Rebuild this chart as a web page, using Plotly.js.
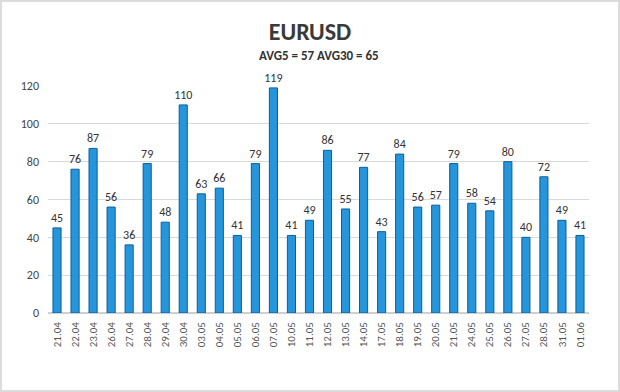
<!DOCTYPE html>
<html>
<head>
<meta charset="utf-8">
<script src="https://cdn.plot.ly/plotly-3.0.1.min.js"></script>
<style>
html,body{margin:0;padding:0;background:#fff;}
#chart{width:620px;height:392px;box-sizing:border-box;border:2px solid #dcdcdc;}
</style>
</head>
<body>
<div id="chart"></div>
<script>
const categories = ["21.04","22.04","23.04","26.04","27.04","28.04","29.04","30.04","03.05","04.05","05.05","06.05","07.05","10.05","11.05","12.05","13.05","14.05","17.05","18.05","19.05","20.05","21.05","24.05","25.05","26.05","27.05","28.05","31.05","01.06"];
const values = [45,76,87,56,36,79,48,110,63,66,41,79,119,41,49,86,55,77,43,84,56,57,79,58,54,80,40,72,49,41];
const yTicks = [0,20,40,60,80,100,120];
const titleText = "EURUSD";
const subtitleText = "AVG5 = 57 AVG30 = 65";

const FONT = "Calibri, Carlito, 'Liberation Sans', Arial, sans-serif";

const trace = {
  type: "bar",
  x: categories,
  y: values,
  text: values.map(String),
  textposition: "outside",
  constraintext: "none",
  cliponaxis: false,
  textfont: {family: FONT, size: 12, color: "#333"},
  outsidetextfont: {family: FONT, size: 12, color: "#333"},
  marker: {color: "#2596dc", line: {color: "#0b5e9c", width: 1}},
  width: 0.45,
  hoverinfo: "none"
};

const layout = {
  width: 616, height: 388,
  margin: {l: 46, r: 29, t: 84, b: 77},
  paper_bgcolor: "#fff",
  plot_bgcolor: "#fff",
  showlegend: false,
  title: {
    text: "<b>" + titleText + "</b>",
    x: 0.5, xanchor: "center",
    y: 0.925, yanchor: "middle",
    yref: "container",
    font: {family: FONT, size: 24, color: "#3a3a3a"}
  },
  annotations: [{
    text: "<b>" + subtitleText + "</b>",
    xref: "paper", yref: "paper",
    x: 0.5, y: 1.135,
    xanchor: "center", yanchor: "middle",
    showarrow: false,
    font: {family: FONT, size: 13, color: "#333"}
  }],
  xaxis: {
    type: "category",
    tickangle: -90,
    tickfont: {family: FONT, size: 11, color: "#555"},
    showgrid: false,
    showline: false,
    ticks: "",
    ticklen: 0,
    ticklabelstandoff: 6,
    automargin: false
  },
  yaxis: {
    range: [0, 120],
    tickvals: yTicks,
    ticktext: yTicks.map(String),
    tickfont: {family: FONT, size: 12, color: "#444"},
    showgrid: true,
    gridcolor: "#d9d9d9",
    gridwidth: 1,
    zeroline: true,
    zerolinecolor: "#cfcfcf",
    zerolinewidth: 2,
    showline: false,
    ticks: "",
    ticklabelstandoff: 8,
    automargin: false
  },
  bargap: 0.5
};

Plotly.newPlot("chart", [trace], layout, {displayModeBar: false, staticPlot: true});
</script>
</body>
</html>
